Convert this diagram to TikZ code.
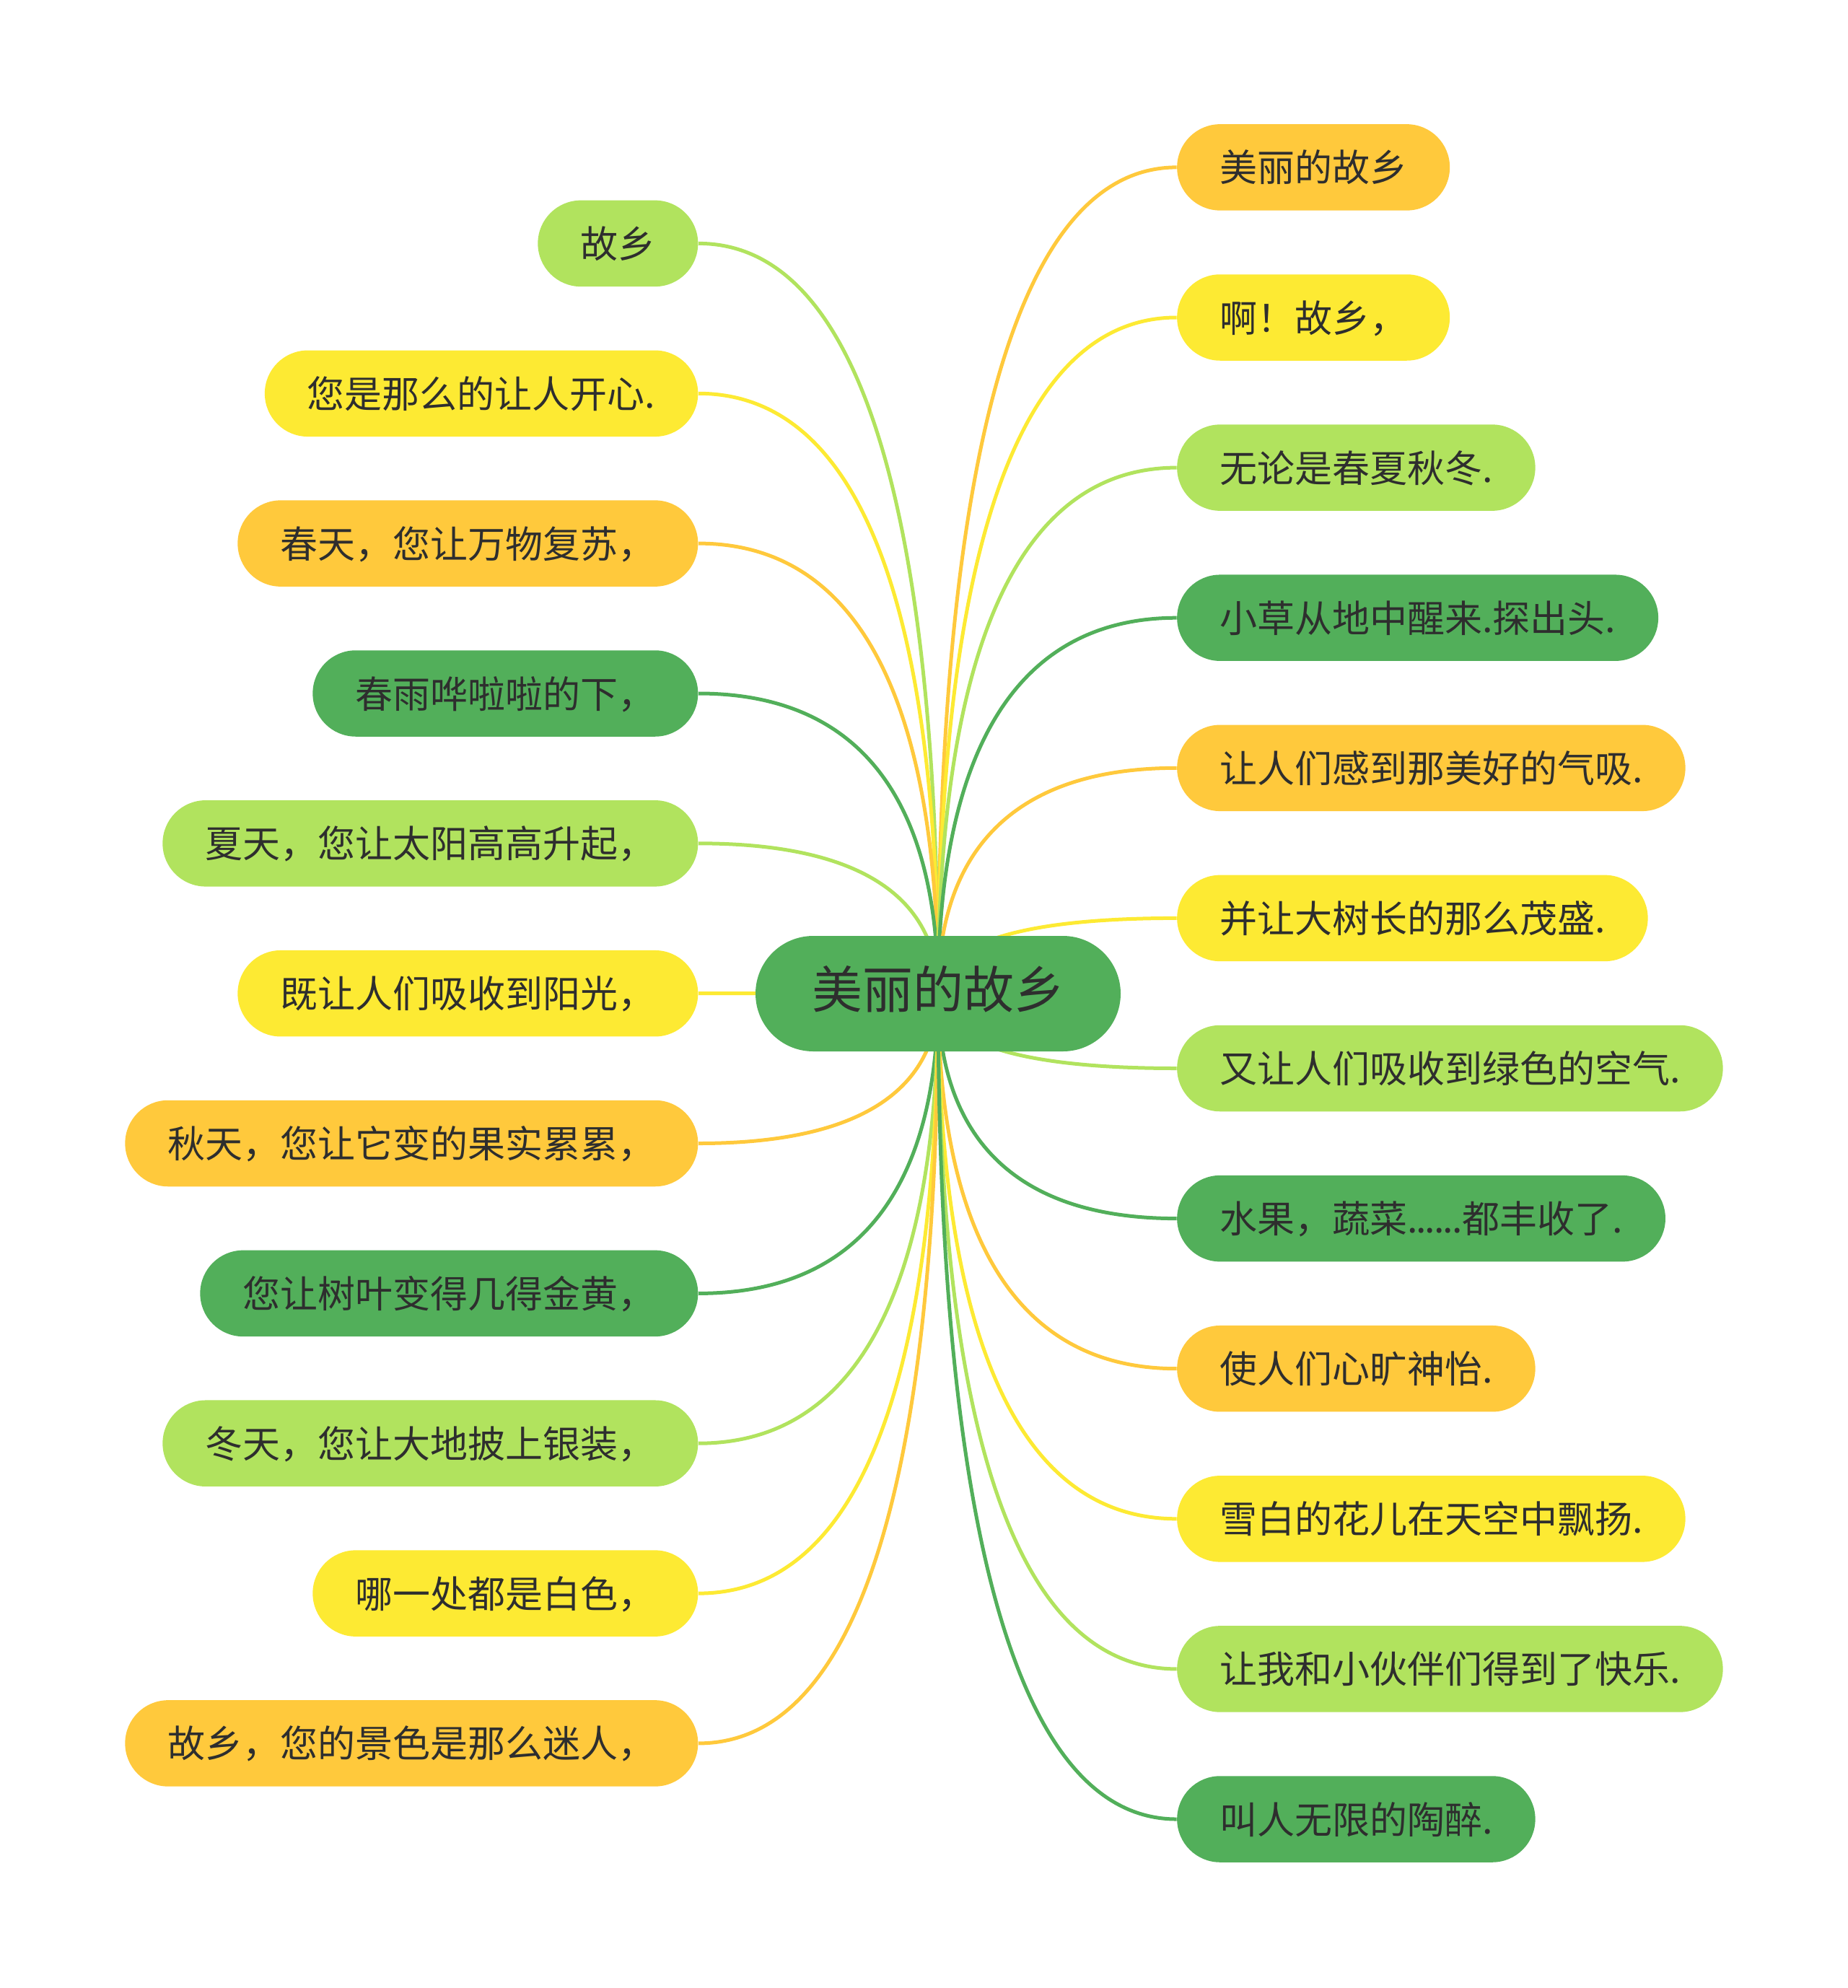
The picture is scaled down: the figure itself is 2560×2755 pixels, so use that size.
\documentclass[tikz,border=0pt]{standalone}
\usepackage{fontspec}
\setmainfont{Noto Sans CJK SC}
\usetikzlibrary{calc,backgrounds}
\definecolor{lg}{HTML}{B1E35E}
\definecolor{ye}{HTML}{FDEA33}
\definecolor{or}{HTML}{FFC93C}
\definecolor{gr}{HTML}{52AF5A}
\definecolor{txt}{HTML}{2E2E2E}
\tikzset{
  leaf/.style={rectangle, rounded corners=17.9pt, minimum height=35.85pt,
    inner xsep=17.7pt, inner ysep=0pt, text=txt,
    font=\fontsize{15.6pt}{18pt}\selectfont, text height=1.32em, text depth=0.12em},
  lleaf/.style={leaf, anchor=east},
  rleaf/.style={leaf, anchor=west},
  root/.style={rectangle, rounded corners=24pt, minimum height=48pt, minimum width=151.8pt,
    inner xsep=23.4pt, inner ysep=0pt, fill=gr, text=txt,
    font=\fontsize{21pt}{25pt}\selectfont, text height=1.36em, text depth=0.12em},
  conn/.style={line width=1.5pt}
}
\newcommand\mylink[2]{\draw[conn,#2] (c.center) .. controls ($(c.center)!0.5!(c.center|-#1)$) and ($(#1)!0.8!(c.center|-#1)$) .. (#1);}
\begin{document}
\begin{tikzpicture}[x=0.3pt,y=-0.3pt]
\useasboundingbox (0,0) rectangle (2560,2755);
\node[root] (c) at (1300,1377) {美丽的故乡};
% left
\node[lleaf, fill=lg] (l0) at (968,337.4) {故乡};
\node[lleaf, fill=ye] (l1) at (968,545.3) {您是那么的让人开心.};
\node[lleaf, fill=or] (l2) at (968,753.1) {春天，您让万物复苏，};
\node[lleaf, fill=gr] (l3) at (968,961.0) {春雨哗啦啦的下，};
\node[lleaf, fill=lg] (l4) at (968,1168.8) {夏天，您让太阳高高升起，};
\node[lleaf, fill=ye] (l5) at (968,1376.7) {既让人们吸收到阳光，};
\node[lleaf, fill=or] (l6) at (968,1584.5) {秋天，您让它变的果实累累，};
\node[lleaf, fill=gr] (l7) at (968,1792.4) {您让树叶变得几得金黄，};
\node[lleaf, fill=lg] (l8) at (968,2000.2) {冬天，您让大地披上银装，};
\node[lleaf, fill=ye] (l9) at (968,2208.1) {哪一处都是白色，};
\node[lleaf, fill=or] (l10) at (968,2415.9) {故乡，您的景色是那么迷人，};
% right
\node[rleaf, fill=or] (r0) at (1630.5,231.9) {美丽的故乡};
\node[rleaf, fill=ye] (r1) at (1630.5,440.0) {啊！故乡，};
\node[rleaf, fill=lg] (r2) at (1630.5,648.1) {无论是春夏秋冬.};
\node[rleaf, fill=gr] (r3) at (1630.5,856.2) {小草从地中醒来.探出头.};
\node[rleaf, fill=or] (r4) at (1630.5,1064.3) {让人们感到那美好的气吸.};
\node[rleaf, fill=ye] (r5) at (1630.5,1272.4) {并让大树长的那么茂盛.};
\node[rleaf, fill=lg] (r6) at (1630.5,1480.5) {又让人们吸收到绿色的空气.};
\node[rleaf, fill=gr] (r7) at (1630.5,1688.6) {水果，蔬菜{\addfontfeatures{LetterSpace=-4}......}都丰收了.};
\node[rleaf, fill=or] (r8) at (1630.5,1896.7) {使人们心旷神怡.};
\node[rleaf, fill=ye] (r9) at (1630.5,2104.8) {雪白的花儿在天空中飘扬.};
\node[rleaf, fill=lg] (r10) at (1630.5,2312.9) {让我和小伙伴们得到了快乐.};
\node[rleaf, fill=gr] (r11) at (1630.5,2521.0) {叫人无限的陶醉.};
\begin{pgfonlayer}{background}
\mylink{l0.east}{lg}
\mylink{l1.east}{ye}
\mylink{l2.east}{or}
\mylink{l3.east}{gr}
\mylink{l4.east}{lg}
\mylink{l5.east}{ye}
\mylink{l6.east}{or}
\mylink{l7.east}{gr}
\mylink{l8.east}{lg}
\mylink{l9.east}{ye}
\mylink{l10.east}{or}
\mylink{r0.west}{or}
\mylink{r1.west}{ye}
\mylink{r2.west}{lg}
\mylink{r3.west}{gr}
\mylink{r4.west}{or}
\mylink{r5.west}{ye}
\mylink{r6.west}{lg}
\mylink{r7.west}{gr}
\mylink{r8.west}{or}
\mylink{r9.west}{ye}
\mylink{r10.west}{lg}
\mylink{r11.west}{gr}
\end{pgfonlayer}
\end{tikzpicture}
\end{document}
